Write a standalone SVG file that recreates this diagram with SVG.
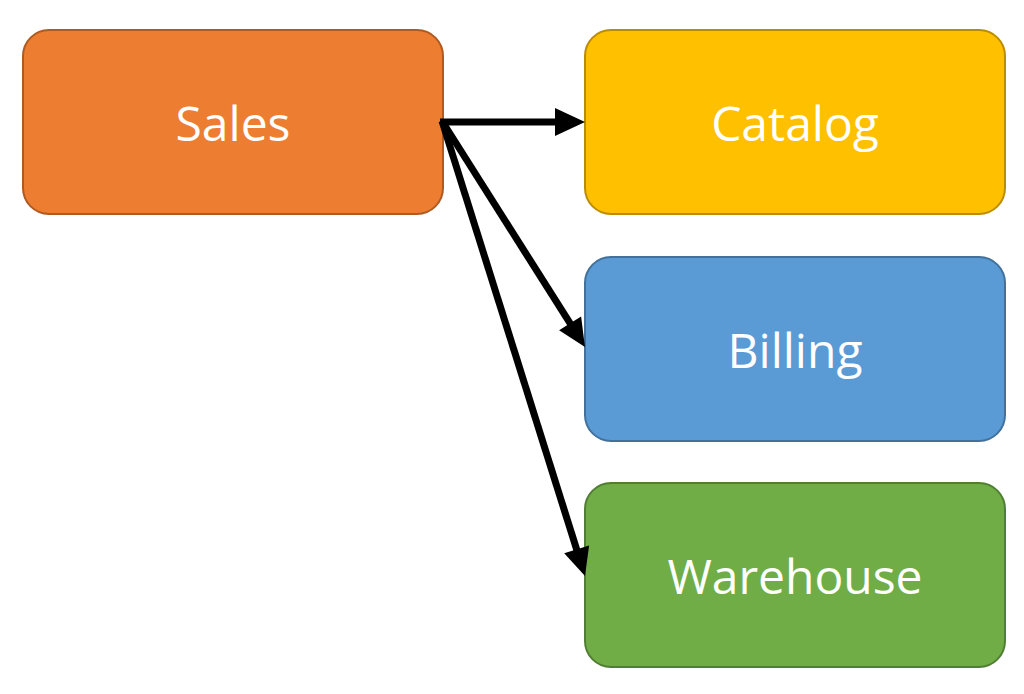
<svg xmlns="http://www.w3.org/2000/svg" width="1024" height="694" viewBox="0 0 1024 694">
<style>
.box{stroke-width:2}
.lbl{font-family:"Open Sans","Noto Sans",sans-serif;font-size:48px;fill:#fff;text-anchor:middle;dominant-baseline:central}
.conn{stroke:#000;stroke-width:7;fill:none;stroke-linecap:butt}
.head{fill:#000}
</style>
<rect width="1024" height="694" fill="#fff"/>
<g id="sales"><rect class="box" x="23" y="30" width="420" height="184" rx="26" fill="#ED7D31" stroke="#AE5A21"/><text class="lbl" x="233" y="122">Sales</text></g>
<g id="catalog"><rect class="box" x="585" y="30" width="420" height="184" rx="26" fill="#FFC000" stroke="#BC8C00"/><text class="lbl" x="795" y="122">Catalog</text></g>
<g id="billing"><rect class="box" x="585" y="257" width="420" height="184" rx="26" fill="#5B9BD5" stroke="#41719C"/><text class="lbl" x="795" y="349">Billing</text></g>
<g id="warehouse"><rect class="box" x="585" y="483" width="420" height="184" rx="26" fill="#70AD47" stroke="#507E32"/><text class="lbl" x="795" y="575">Warehouse</text></g>
<g id="connectors">
<path class="conn" d="M440,122 L561,122"/>
<polygon class="head" points="585,122 555,108 555,136"/>
<path class="conn" d="M442,121 L572.2,326.7"/>
<polygon class="head" points="585,347 559.1,330.3 581.1,316.4"/>
<path class="conn" d="M442,121 L577.8,553.1"/>
<polygon class="head" points="585,576 564.2,553.2 589.1,545.4"/>
</g>
</svg>
